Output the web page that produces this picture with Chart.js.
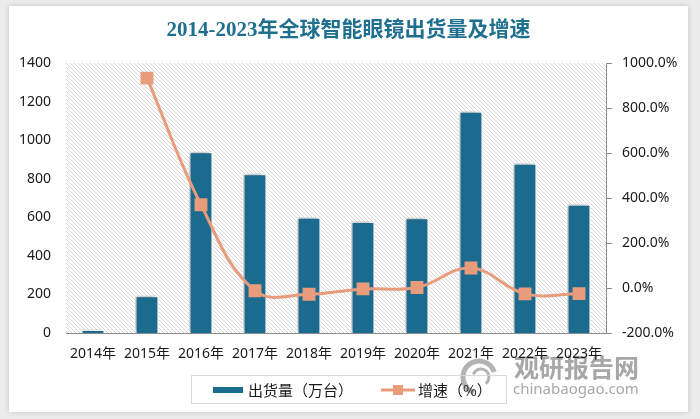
<!DOCTYPE html>
<html>
<head>
<meta charset="utf-8">
<script src="https://cdn.jsdelivr.net/npm/chart.js@4"></script>
<style>
  html, body { margin: 0; padding: 0; background: #ececec; }
  body { width: 700px; height: 419px; position: relative; overflow: hidden; }
  .card {
    position: absolute; left: 9px; top: 6px; width: 679px; height: 406px;
    background: #fff; box-shadow: 0 0 6px rgba(0, 0, 0, 0.18);
  }
  canvas { display: block; }
</style>
</head>
<body>
<div class="card"><canvas id="glasses-Chart" width="679" height="406"></canvas></div>
<script>
const years = ["2014年", "2015年", "2016年", "2017年", "2018年", "2019年", "2020年", "2021年", "2022年", "2023年"];
const shipments = [18, 193, 940, 826, 600, 578, 598, 1150, 880, 668];
const growth = [null, 933, 370, -12, -28, -4, 2, 89, -26, -25];
const leftTicks = [0, 200, 400, 600, 800, 1000, 1200, 1400];
const rightTicks = [-200, 0, 200, 400, 600, 800, 1000];

const titleText = "2014-2023年全球智能眼镜出货量及增速";
const barColor = "#1b6b8f";
const lineColor = "#e99c7b";
const tickFont = { family: "'Noto Sans', 'Noto Sans CJK SC', sans-serif", size: 14 };

function hatch() {
  const c = document.createElement("canvas");
  c.width = 4; c.height = 4;
  const g = c.getContext("2d");
  g.fillStyle = "#ffffff";
  g.fillRect(0, 0, 4, 4);
  g.strokeStyle = "#d6d6d6";
  g.lineWidth = 1;
  g.beginPath();
  g.moveTo(-1, -1); g.lineTo(5, 5);
  g.moveTo(-1, 3); g.lineTo(1, 5);
  g.moveTo(3, -1); g.lineTo(5, 1);
  g.stroke();
  return c;
}

const backdrop = {
  id: "backdrop",
  beforeDraw(chart) {
    const { ctx, chartArea: a } = chart;
    ctx.save();
    ctx.fillStyle = ctx.createPattern(hatch(), "repeat");
    ctx.fillRect(a.left, a.top, a.right - a.left, a.bottom - a.top);

    // watermark
    ctx.globalAlpha = 0.75;
    ctx.strokeStyle = "#9a9a9a";
    ctx.lineWidth = 5;
    ctx.beginPath();
    ctx.arc(470, 371, 16, Math.PI * 0.6, Math.PI * 1.9);
    ctx.stroke();
    ctx.lineWidth = 3;
    ctx.beginPath();
    ctx.arc(472, 371, 8, Math.PI * 1.1, Math.PI * 2.3);
    ctx.stroke();
    ctx.fillStyle = "#8a8a8a";
    ctx.font = "bold 25px 'Noto Sans CJK SC', sans-serif";
    ctx.textBaseline = "alphabetic";
    ctx.fillText("观研报告网", 505, 371);
    ctx.font = "15px 'Noto Sans', sans-serif";
    ctx.fillText("chinabaogao.com", 504, 388);
    ctx.restore();

    // title
    ctx.save();
    ctx.fillStyle = "#1f6f8e";
    ctx.font = "bold 21px 'Liberation Serif', 'Noto Sans CJK SC', serif";
    ctx.textAlign = "center";
    ctx.textBaseline = "middle";
    ctx.fillText(titleText, chart.width / 2, 25);
    ctx.restore();
  },
  beforeDatasetDraw(chart, args) {
    if (args.index === 0) {
      const ctx = chart.ctx;
      ctx.save();
      ctx.shadowColor = "rgba(0, 0, 0, 0.35)";
      ctx.shadowBlur = 5;
      ctx.shadowOffsetX = -2;
      ctx.shadowOffsetY = -1;
    }
  },
  afterDatasetDraw(chart, args) {
    if (args.index === 0) chart.ctx.restore();
  },
  afterDraw(chart) {
    // legend box
    const ctx = chart.ctx;
    const ds = chart.data.datasets;
    ctx.save();
    ctx.strokeStyle = "#d9d9d9";
    ctx.lineWidth = 1;
    ctx.strokeRect(182.5, 369.5, 315, 28);
    ctx.fillStyle = barColor;
    ctx.fillRect(204, 381, 30, 6);
    ctx.strokeStyle = lineColor;
    ctx.lineWidth = 3;
    ctx.beginPath();
    ctx.moveTo(372, 384); ctx.lineTo(406, 384);
    ctx.stroke();
    ctx.fillStyle = lineColor;
    ctx.fillRect(384, 379, 10, 10);
    ctx.fillStyle = "#1a1a1a";
    ctx.font = "15px 'Noto Sans CJK SC', sans-serif";
    ctx.textBaseline = "middle";
    ctx.fillText(ds[0].label, 239, 384);
    ctx.fillText(ds[1].label, 409, 384);
    ctx.restore();
  },
};

document.addEventListener("DOMContentLoaded", () => {
  const ctx = document.getElementById("glasses-Chart");
  if (ctx) {
    new Chart(ctx, {
      data: {
        labels: years,
        datasets: [
          {
            type: "bar",
            label: "出货量（万台）",
            data: shipments,
            backgroundColor: barColor,
            borderColor: "#ffffff",
            borderWidth: 1.5,
            barPercentage: 0.44,
            categoryPercentage: 1,
            yAxisID: "y",
            order: 1,
          },
          {
            type: "line",
            label: "增速（%）",
            data: growth,
            borderColor: lineColor,
            backgroundColor: lineColor,
            borderWidth: 3,
            tension: 0.4,
            pointStyle: "rect",
            pointRadius: 7,
            pointHoverRadius: 7,
            yAxisID: "y1",
            order: 0,
          },
        ],
      },
      plugins: [backdrop],
      options: {
        responsive: false,
        animation: false,
        layout: { padding: { top: 57, left: 0, right: 0, bottom: 0 } },
        plugins: {
          legend: { display: false },
          title: { display: false },
          tooltip: { enabled: false },
        },
        scales: {
          x: {
            grid: { display: false, drawTicks: false },
            border: { display: true, color: "#8c8c8c", width: 1 },
            ticks: { color: "#1a1a1a", font: tickFont, padding: 13, maxRotation: 0, autoSkip: false },
            afterFit(scale) { scale.height = 79; },
          },
          y: {
            position: "left",
            min: 0,
            max: 1400,
            afterBuildTicks(scale) { scale.ticks = leftTicks.map((v) => ({ value: v })); },
            grid: { display: false, drawTicks: false },
            border: { display: false },
            ticks: { color: "#1a1a1a", font: tickFont, padding: 15, callback: (v) => String(v) },
            afterFit(scale) { scale.width = 57; },
          },
          y1: {
            position: "right",
            min: -200,
            max: 1000,
            afterBuildTicks(scale) { scale.ticks = rightTicks.map((v) => ({ value: v })); },
            grid: { display: true, drawOnChartArea: false, drawTicks: true, tickLength: 6, color: "#8c8c8c" },
            border: { display: true, color: "#8c8c8c", width: 1 },
            ticks: {
              color: "#1a1a1a",
              font: tickFont,
              padding: 10,
              callback: (v) => v.toFixed(1) + "%",
            },
            afterFit(scale) { scale.width = 82; },
          },
        },
      },
    });
  } else {
    console.error("Canvas element not found");
  }
});
</script>
</body>
</html>
